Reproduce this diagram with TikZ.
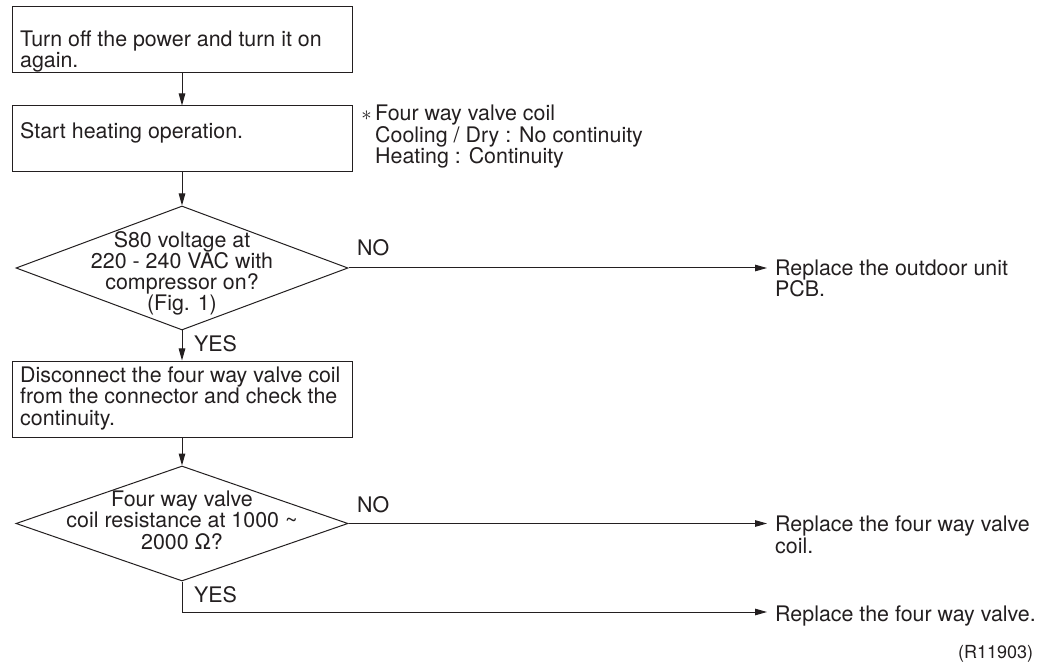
\documentclass[tikz,border=0pt]{standalone}
\usepackage{fontspec}
\setmainfont{TeX Gyre Heros}
\usetikzlibrary{arrows.meta,shapes.geometric}
\definecolor{ink}{HTML}{231F20}
\begin{document}
\begin{tikzpicture}[x=1pt,y=-1pt,
  every node/.style={text=ink},
  font=\fontsize{21.4}{21.2}\selectfont,
  box/.style={draw=ink,line width=1pt,rectangle,minimum width=340pt,inner sep=0pt},
  dia/.style={draw=ink,line width=1pt,diamond,inner sep=0pt,minimum width=332pt},
  txt/.style={inner sep=0pt,anchor=base west,align=left},
  ctxt/.style={inner sep=0pt,anchor=base,align=center},
  lbl/.style={inner sep=0pt,anchor=base west},
  arr/.style={draw=ink,line width=1pt,-{Triangle[length=12pt,width=6.5pt]}},
  ln/.style={draw=ink,line width=1pt}]
\useasboundingbox (0,0) rectangle (1047,668);
\fill[white] (0,0) rectangle (1047,668);
% boxes
\node[box,minimum height=66pt] (b1) at (182,40) {};
\node[box,minimum height=66pt] (b2) at (182,139) {};
\node[dia,minimum height=124pt] (d1) at (182,268) {};
\node[box,minimum height=76pt] (b3) at (182,399) {};
\node[dia,minimum height=115pt] (d2) at (182,523.5) {};
% texts (anchored at the baseline of the last line)
\node[txt] (t1) at (20,68) {Turn off the power and turn it on\\again.};
\node[txt] (t2) at (20,139) {Start heating operation.};
\node[ctxt] (t3) at (182,311) {S80 voltage at\\220 - 240 VAC with\\compressor on?\\(Fig. 1)};
\node[txt] (t4) at (20,425) {Disconnect the four way valve coil\\from the connector and check the\\continuity.};
\node[ctxt] (t5) at (182,549) {Four way valve\\coil resistance at 1000 \char"007E\\2000 Ω?};
\node[txt,font=\fontsize{21.4}{18}\selectfont] (note) at (375,164) {\llap{$\ast$\,}Four way valve coil\\Cooling / Dry : No continuity\\Heating : Continuity};
\node[txt] (r1) at (775,297) {Replace the outdoor unit\\PCB.};
\node[txt] (r2) at (775,553) {Replace the four way valve\\coil.};
\node[txt] (r3) at (775,621) {Replace the four way valve.};
\node[lbl,font=\fontsize{18}{18}\selectfont] (ref) at (958,658) {(R11903)};
% labels
\node[lbl] (no1) at (357,256) {NO};
\node[lbl] (no2) at (357,512) {NO};
\node[lbl] (yes1) at (194,352) {YES};
\node[lbl] (yes2) at (194,602) {YES};
% connector ends
\coordinate (e1) at (767,268);
\coordinate (e2) at (767,523.5);
\coordinate (e3) at (767,612);
\coordinate (c3) at (182,612);
% connectors
\draw[arr] (b1.south) -- (b2.north);
\draw[arr] (b2.south) -- (d1.north);
\draw[arr] (d1.south) -- (b3.north);
\draw[arr] (b3.south) -- (d2.north);
\draw[arr] (d1.east) -- (e1);
\draw[arr] (d2.east) -- (e2);
\draw[arr] (d2.south) -- (c3) -- (e3);
\end{tikzpicture}
\end{document}
